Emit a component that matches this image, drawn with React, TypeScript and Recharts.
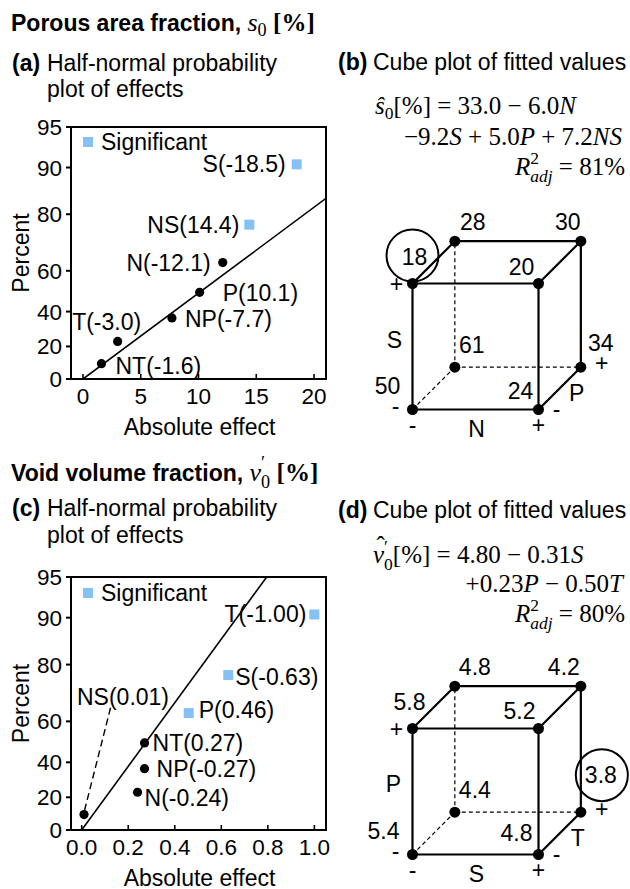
import React from 'react';
import { ScatterChart, Scatter, XAxis, YAxis, ReferenceLine, ReferenceArea } from 'recharts';

const SANS = '"Liberation Sans", Arial, Helvetica, sans-serif';
const SERIF = '"Liberation Serif", "Times New Roman", serif';
const BLUE = '#85c1f5';

// ---------- Panel (a) data ----------
const effectNamesA = ['S(-18.5)', 'NS(14.4)', 'N(-12.1)', 'P(10.1)', 'NP(-7.7)', 'T(-3.0)', 'NT(-1.6)'];
const absEffectsA = [18.5, 14.4, 12.1, 10.1, 7.7, 3.0, 1.6];
const percentsA = [90.5, 77, 63.5, 50, 36.5, 23, 9.5];
const significantA = [true, true, false, false, false, false, false];
const fitXA = [0, 21.04];
const fitPA = [0, 84];
const xTicksA = [0, 5, 10, 15, 20];

// ---------- Panel (c) data ----------
const effectNamesC = ['T(-1.00)', 'S(-0.63)', 'P(0.46)', 'NT(0.27)', 'NP(-0.27)', 'N(-0.24)', 'NS(0.01)'];
const absEffectsC = [1.0, 0.63, 0.46, 0.27, 0.27, 0.24, 0.01];
const percentsC = [90.5, 77, 63.5, 50, 36.5, 23, 9.5];
const significantC = [true, true, true, false, false, false, false];
const fitXC = [0, 0.795];
const fitPC = [0, 95];
const leaderXC = [0.012, 0.125];
const leaderPC = [12, 66];
const xTicksC = [0, 0.2, 0.4, 0.6, 0.8, 1.0];

const percentTicks = [0, 20, 40, 60, 80, 90, 95];

// ---------- Cube (b) data: N horizontal, S vertical, P depth ----------
const cubeHB = [-1, 1, -1, 1, -1, 1, -1, 1];
const cubeVB = [-1, -1, 1, 1, -1, -1, 1, 1];
const cubeDB = [-1, -1, -1, -1, 1, 1, 1, 1];
const fittedB = [50, 24, 18, 20, 61, 34, 28, 30];

// ---------- Cube (d) data: S horizontal, P vertical, T depth ----------
const cubeHD = [-1, 1, -1, 1, -1, 1, -1, 1];
const cubeVD = [-1, -1, 1, 1, -1, -1, 1, 1];
const cubeDD = [-1, -1, -1, -1, 1, 1, 1, 1];
const fittedD = [5.4, 4.8, 5.8, 5.2, 4.4, 3.8, 4.8, 4.2];

// ---------- layout (label placement) ----------
type Anchor = 'start' | 'middle' | 'end';
const placeA: [number, number, Anchor][] = [
  [-11, 0, 'end'], [-10, 0, 'end'], [-12, 0, 'end'], [23, 1, 'start'], [13, 1, 'start'], [-11, -19, 'middle'], [14, 2, 'start'],
];
const placeC: [number, number, Anchor][] = [
  [-8, 0, 'end'], [7, 2, 'start'], [10, -3, 'start'], [8, 0, 'start'], [12, 0, 'start'], [7, 6, 'start'], [39, -118, 'middle'],
];
const valueOffB: [number, number][] = [[-25, -24], [-18, -19], [2, -27], [-17, -17], [17, -22], [20, -24], [18, -19], [-13, -19]];
const valueOffD: [number, number][] = [[-29, -24], [-22, -22], [-3, -27], [-19, -18], [20, -22], [20, -37], [20, -19], [-17, -19]];
const notesB: [string, string, number, number][] = [
  ['S', 'leftMid', -18, -7], ['+', 'FTL', -16, 0], ['-', 'FBL', -17, -4], ['-', 'FBL', 0, 15],
  ['N', 'bottomMid', 1, 19], ['+', 'FBR', 0, 15], ['-', 'FBR', 18, -1], ['P', 'depthMid', 17, 5], ['+', 'BBR', 21, -4],
];
const notesD: [string, string, number, number][] = [
  ['P', 'leftMid', -19, -8], ['+', 'FTL', -16, 0], ['-', 'FBL', -17, -4], ['-', 'FBL', 0, 15],
  ['S', 'bottomMid', 1, 19], ['+', 'FBR', 0, 15], ['-', 'FBR', 18, -1], ['T', 'depthMid', 18, 5], ['+', 'BBR', 21, -3],
];

// ---------- helpers ----------
function invNorm(p: number): number {
  const a = [-3.969683028665376e1, 2.209460984245205e2, -2.759285104469687e2, 1.38357751867269e2, -3.066479806614716e1, 2.506628277459239];
  const b = [-5.447609879822406e1, 1.615858368580409e2, -1.556989798598866e2, 6.680131188771972e1, -1.328068155288572e1];
  const c = [-7.784894002430293e-3, -3.223964580411365e-1, -2.400758277161838, -2.549732539343734, 4.374664141464968, 2.938163982698783];
  const d = [7.784695709041462e-3, 3.224671290700398e-1, 2.445134137142996, 3.754408661907416];
  const plow = 0.02425;
  if (p < plow) {
    const q = Math.sqrt(-2 * Math.log(p));
    return (((((c[0] * q + c[1]) * q + c[2]) * q + c[3]) * q + c[4]) * q + c[5]) / ((((d[0] * q + d[1]) * q + d[2]) * q + d[3]) * q + 1);
  }
  if (p <= 1 - plow) {
    const q = p - 0.5;
    const r = q * q;
    return ((((((a[0] * r + a[1]) * r + a[2]) * r + a[3]) * r + a[4]) * r + a[5]) * q) / (((((b[0] * r + b[1]) * r + b[2]) * r + b[3]) * r + b[4]) * r + 1);
  }
  const q = Math.sqrt(-2 * Math.log(1 - p));
  return -(((((c[0] * q + c[1]) * q + c[2]) * q + c[3]) * q + c[4]) * q + c[5]) / ((((d[0] * q + d[1]) * q + d[2]) * q + d[3]) * q + 1);
}
// half-normal probability scale
const toZ = (percent: number) => (percent <= 0 ? 0 : invNorm(0.5 + percent / 200));
const zTicks = percentTicks.map(toZ);
const zTop = toZ(95);
const fmtY = (z: number) => {
  let best = 0;
  zTicks.forEach((t, i) => { if (Math.abs(t - z) < Math.abs(zTicks[best] - z)) best = i; });
  return String(percentTicks[best]);
};

const Nothing = () => <g />;

const renderEffect = (p: any) => {
  const { cx, cy, payload } = p;
  const [dx, dy, anchor] = payload.place;
  return (
    <g>
      {payload.sig ? (
        <rect x={cx - 5} y={cy - 5} width={10} height={10} fill={BLUE} />
      ) : (
        <circle cx={cx} cy={cy} r={4.6} fill="#000" />
      )}
      <text x={cx + dx} y={cy + dy} textAnchor={anchor} dominantBaseline="central" fontSize={23} fontFamily={SANS} fill="#000">
        {payload.name}
      </text>
    </g>
  );
};

const makeXTick = (fmt: (v: number) => string) => (p: any) => (
  <g>
    <line x1={p.x} x2={p.x} y1={p.y} y2={p.y - 5} stroke="#000" strokeWidth={1.6} />
    <text x={p.x} y={p.y + 17} textAnchor="middle" dominantBaseline="central" fontSize={22.5} fontFamily={SANS} fill="#000">
      {fmt(p.payload.value)}
    </text>
  </g>
);

const TOPPAD = 20;

function HalfNormalPanel(props: {
  plotTop: number; plotBottom: number; names: string[]; effects: number[]; percents: number[];
  significant: boolean[]; places: [number, number, Anchor][]; xDomain: [number, number]; xTicks: number[];
  xFmt: (v: number) => string; fitX: number[]; fitP: number[]; leaderX?: number[]; leaderP?: number[];
}) {
  const chartTop = props.plotTop - TOPPAD;
  const height = props.plotBottom - chartTop + 66;
  const points = props.names.map((name, i) => ({
    x: props.effects[i], y: toZ(props.percents[i]), name, sig: props.significant[i], place: props.places[i],
  }));
  const fit = props.fitX.map((x, i) => ({ x, y: toZ(props.fitP[i]) }));
  const leader = props.leaderX ? props.leaderX.map((x, i) => ({ x, y: toZ(props.leaderP![i]) })) : null;
  const yLabel = (lp: any) => {
    const vb = lp.viewBox;
    const x = vb.x + 21;
    const y = vb.y + vb.height / 2;
    return (
      <text x={x} y={y} transform={`rotate(-90, ${x}, ${y})`} textAnchor="middle" dominantBaseline="central" fontSize={23} fontFamily={SANS} fill="#000">
        Percent
      </text>
    );
  };
  const xLabel = (lp: any) => {
    const vb = lp.viewBox;
    return (
      <text x={vb.x + vb.width / 2 + 1} y={vb.y + 48} textAnchor="middle" dominantBaseline="central" fontSize={23} fontFamily={SANS} fill="#000">
        Absolute effect
      </text>
    );
  };
  return (
    <div style={{ position: 'absolute', left: 0, top: chartTop }}>
      <ScatterChart width={340} height={height} margin={{ top: TOPPAD, right: 14, left: 0, bottom: 0 }}>
        <XAxis
          type="number" dataKey="x" domain={props.xDomain} ticks={props.xTicks} allowDataOverflow interval={0}
          height={66} tickSize={0} tickMargin={0} tickLine={false} tick={makeXTick(props.xFmt)}
          axisLine={{ stroke: '#000', strokeWidth: 2 }} label={xLabel}
        />
        <YAxis
          type="number" dataKey="y" domain={[0, zTop]} ticks={zTicks} allowDataOverflow interval={0}
          width={71} tickSize={5} tickMargin={4} tickFormatter={fmtY}
          tick={{ fill: '#000', fontSize: 22.5, fontFamily: SANS }}
          axisLine={{ stroke: '#000', strokeWidth: 2 }} tickLine={{ stroke: '#000', strokeWidth: 2 }} label={yLabel}
        />
        <ReferenceArea x1={props.xDomain[0]} x2={props.xDomain[1]} y1={0} y2={zTop} fill="none" fillOpacity={0} stroke="#000" strokeWidth={2} ifOverflow="visible" />
        <Scatter data={fit} line={{ stroke: '#000', strokeWidth: 1.6 }} shape={Nothing} isAnimationActive={false} />
        {leader && (
          <Scatter data={leader} line={{ stroke: '#000', strokeWidth: 1.4, strokeDasharray: '7 4' }} shape={Nothing} isAnimationActive={false} />
        )}
        <Scatter data={points} shape={renderEffect} isAnimationActive={false} />
      </ScatterChart>
    </div>
  );
}

const DEPTH = 0.336;
const project = (h: number, v: number, d: number) => ({
  x: (h + 1) / 2 + (DEPTH * (d + 1)) / 2,
  y: (v + 1) / 2 + (DEPTH * (d + 1)) / 2,
});
const spots: Record<string, { x: number; y: number }> = {
  FTL: project(-1, 1, -1), FBL: project(-1, -1, -1), FBR: project(1, -1, -1), BBR: project(1, -1, 1),
  leftMid: project(-1, 0, -1), bottomMid: project(0, -1, -1), depthMid: project(1, -1, 0),
};

const renderVertex = (p: any) => {
  const { cx, cy, payload } = p;
  const [dx, dy] = payload.off;
  return (
    <g>
      <circle cx={cx} cy={cy} r={5.5} fill="#000" />
      {payload.circ && (
        <circle cx={cx + payload.circ[0]} cy={cy + payload.circ[1]} r={26} fill="none" stroke="#000" strokeWidth={2} />
      )}
      <text x={cx + dx} y={cy + dy} textAnchor="middle" dominantBaseline="central" fontSize={23} fontFamily={SANS} fill="#000">
        {payload.label}
      </text>
    </g>
  );
};
const renderNote = (p: any) => {
  const { cx, cy, payload } = p;
  return (
    <text x={cx + payload.dx} y={cy + payload.dy} textAnchor="middle" dominantBaseline="central" fontSize={23} fontFamily={SANS} fill="#000">
      {payload.text}
    </text>
  );
};

function CubePanel(props: {
  left: number; top: number; h: number[]; v: number[]; d: number[]; values: number[];
  fmt: (v: number) => string; offsets: [number, number][]; circled: number; circleOff: [number, number];
  notes: [string, string, number, number][];
}) {
  const { h, v, d } = props;
  const verts = props.values.map((val, i) => ({
    ...project(h[i], v[i], d[i]), label: props.fmt(val), off: props.offsets[i],
    circ: i === props.circled ? props.circleOff : null,
  }));
  const hidden = (i: number) => h[i] === -1 && v[i] === -1 && d[i] === 1;
  const edges: { a: any; b: any; dashed: boolean }[] = [];
  for (let i = 0; i < verts.length; i++) {
    for (let j = i + 1; j < verts.length; j++) {
      const diff = (h[i] !== h[j] ? 1 : 0) + (v[i] !== v[j] ? 1 : 0) + (d[i] !== d[j] ? 1 : 0);
      if (diff === 1) edges.push({ a: verts[i], b: verts[j], dashed: hidden(i) || hidden(j) });
    }
  }
  const noteData = props.notes.map(([text, at, dx, dy]) => ({ ...spots[at], text, dx, dy }));
  return (
    <div style={{ position: 'absolute', left: props.left, top: props.top }}>
      <ScatterChart width={315} height={252} margin={{ top: 0, right: 0, bottom: 0, left: 0 }}>
        <XAxis type="number" dataKey="x" domain={[-0.75, 1.75]} hide allowDataOverflow />
        <YAxis type="number" dataKey="y" domain={[-0.25, 1.75]} hide allowDataOverflow />
        {edges.map((e, k) => (
          <ReferenceLine
            key={k}
            segment={[{ x: e.a.x, y: e.a.y }, { x: e.b.x, y: e.b.y }]}
            stroke="#000"
            strokeWidth={e.dashed ? 1.2 : 2.2}
            strokeDasharray={e.dashed ? '4 3' : undefined}
            ifOverflow="visible"
          />
        ))}
        <Scatter data={noteData} shape={renderNote} isAnimationActive={false} />
        <Scatter data={verts} shape={renderVertex} isAnimationActive={false} />
      </ScatterChart>
    </div>
  );
}

// ---------- text helpers ----------
const Line = (p: { x?: number; right?: number; y: number; style?: React.CSSProperties; children: React.ReactNode }) => (
  <div
    style={{
      position: 'absolute', left: p.x, right: p.right, top: p.y - 20, lineHeight: '40px', height: 40,
      whiteSpace: 'nowrap', textAlign: p.right !== undefined ? 'right' : 'left', ...p.style,
    }}
  >
    {p.children}
  </div>
);
const I = ({ children }: { children: React.ReactNode }) => <span style={{ fontStyle: 'italic' }}>{children}</span>;
const Sub = ({ children }: { children: React.ReactNode }) => (
  <span style={{ fontSize: '0.7em', verticalAlign: '-0.3em', fontStyle: 'normal' }}>{children}</span>
);
const Stack = ({ sup, sub }: { sup: React.ReactNode; sub: React.ReactNode }) => (
  <span style={{ display: 'inline-block', verticalAlign: '-0.4em', lineHeight: 1.05, fontSize: '0.7em', textAlign: 'left' }}>
    <span style={{ display: 'block' }}>{sup}</span>
    <span style={{ display: 'block' }}>{sub}</span>
  </span>
);
const Hat = ({ children }: { children: React.ReactNode }) => (
  <span style={{ position: 'relative', display: 'inline-block' }}>
    <I>{children}</I>
    <span style={{ position: 'absolute', left: '0.14em', top: '-0.12em', fontStyle: 'normal', lineHeight: 'normal' }}>ˆ</span>
  </span>
);

const eqStyle: React.CSSProperties = { fontFamily: SERIF, fontSize: 25 };
const headStyle: React.CSSProperties = { fontFamily: SANS, fontSize: 23 };
const boldStyle: React.CSSProperties = { fontFamily: SANS, fontSize: 23, fontWeight: 'bold' };

const Legend = ({ y }: { y: number }) => (
  <>
    <div style={{ position: 'absolute', left: 83, top: y - 5, width: 10, height: 10, background: BLUE }} />
    <Line x={101} y={y} style={headStyle}>Significant</Line>
  </>
);

export default function App() {
  return (
    <div style={{ position: 'absolute', left: 0, top: 0, width: 630, height: 889, overflow: 'hidden', background: '#fff', color: '#000', fontFamily: SANS }}>
      {/* Titles */}
      <Line x={11} y={23} style={boldStyle}>
        Porous area fraction,{' '}
        <span style={{ fontFamily: SERIF, fontWeight: 'normal', fontSize: 26 }}>
          <I>s</I>
          <Sub>0</Sub>
        </span>{' '}
        <span style={{ fontFamily: SERIF, fontSize: 25 }}>[%]</span>
      </Line>
      <Line x={11} y={473} style={boldStyle}>
        Void volume fraction,{' '}
        <span style={{ fontFamily: SERIF, fontWeight: 'normal', fontSize: 26 }}>
          <I>v</I>
          <Stack sup="′" sub="0" />
        </span>{' '}
        <span style={{ fontFamily: SERIF, fontSize: 25 }}>[%]</span>
      </Line>

      {/* Panel headers */}
      <Line x={12} y={63} style={headStyle}><b>(a)</b></Line>
      <Line x={47} y={63} style={headStyle}>Half-normal probability</Line>
      <Line x={47} y={89} style={headStyle}>plot of effects</Line>
      <Line x={12} y={508} style={headStyle}><b>(c)</b></Line>
      <Line x={47} y={508} style={headStyle}>Half-normal probability</Line>
      <Line x={47} y={535} style={headStyle}>plot of effects</Line>
      <Line x={338} y={62} style={headStyle}><b>(b)</b></Line>
      <Line x={373} y={62} style={headStyle}>Cube plot of fitted values</Line>
      <Line x={338} y={510} style={headStyle}><b>(d)</b></Line>
      <Line x={373} y={510} style={headStyle}>Cube plot of fitted values</Line>

      {/* Equations (b) */}
      <Line x={375} y={106} style={eqStyle}>
        <I>ŝ</I><Sub>0</Sub>[%] = 33.0 − 6.0<I>N</I>
      </Line>
      <Line right={8} y={137} style={eqStyle}>
        −9.2<I>S</I> + 5.0<I>P</I> + 7.2<I>NS</I>
      </Line>
      <Line right={5} y={167} style={eqStyle}>
        <I>R</I><Stack sup="2" sub={<I>adj</I>} /> = 81%
      </Line>

      {/* Equations (d) */}
      <Line x={373} y={555} style={eqStyle}>
        <Hat>v</Hat><Stack sup="′" sub="0" />[%] = 4.80 − 0.31<I>S</I>
      </Line>
      <Line right={7} y={584} style={eqStyle}>
        +0.23<I>P</I> − 0.50<I>T</I>
      </Line>
      <Line right={5} y={614} style={eqStyle}>
        <I>R</I><Stack sup="2" sub={<I>adj</I>} /> = 80%
      </Line>

      <HalfNormalPanel
        plotTop={127} plotBottom={379} names={effectNamesA} effects={absEffectsA} percents={percentsA}
        significant={significantA} places={placeA} xDomain={[-1.04, 21.04]} xTicks={xTicksA}
        xFmt={(v) => String(v)} fitX={fitXA} fitP={fitPA}
      />
      <HalfNormalPanel
        plotTop={577} plotBottom={830} names={effectNamesC} effects={absEffectsC} percents={percentsC}
        significant={significantC} places={placeC} xDomain={[-0.046, 1.05]} xTicks={xTicksC}
        xFmt={(v) => v.toFixed(1)} fitX={fitXC} fitP={fitPC} leaderX={leaderXC} leaderP={leaderPC}
      />
      <Legend y={142} />
      <Legend y={593} />

      <CubePanel
        left={318.2} top={188.8} h={cubeHB} v={cubeVB} d={cubeDB} values={fittedB} fmt={(v) => String(v)}
        offsets={valueOffB} circled={2} circleOff={[0, -28]} notes={notesB}
      />
      <CubePanel
        left={318.2} top={633.8} h={cubeHD} v={cubeVD} d={cubeDD} values={fittedD} fmt={(v) => v.toFixed(1)}
        offsets={valueOffD} circled={5} circleOff={[21, -37]} notes={notesD}
      />
    </div>
  );
}
